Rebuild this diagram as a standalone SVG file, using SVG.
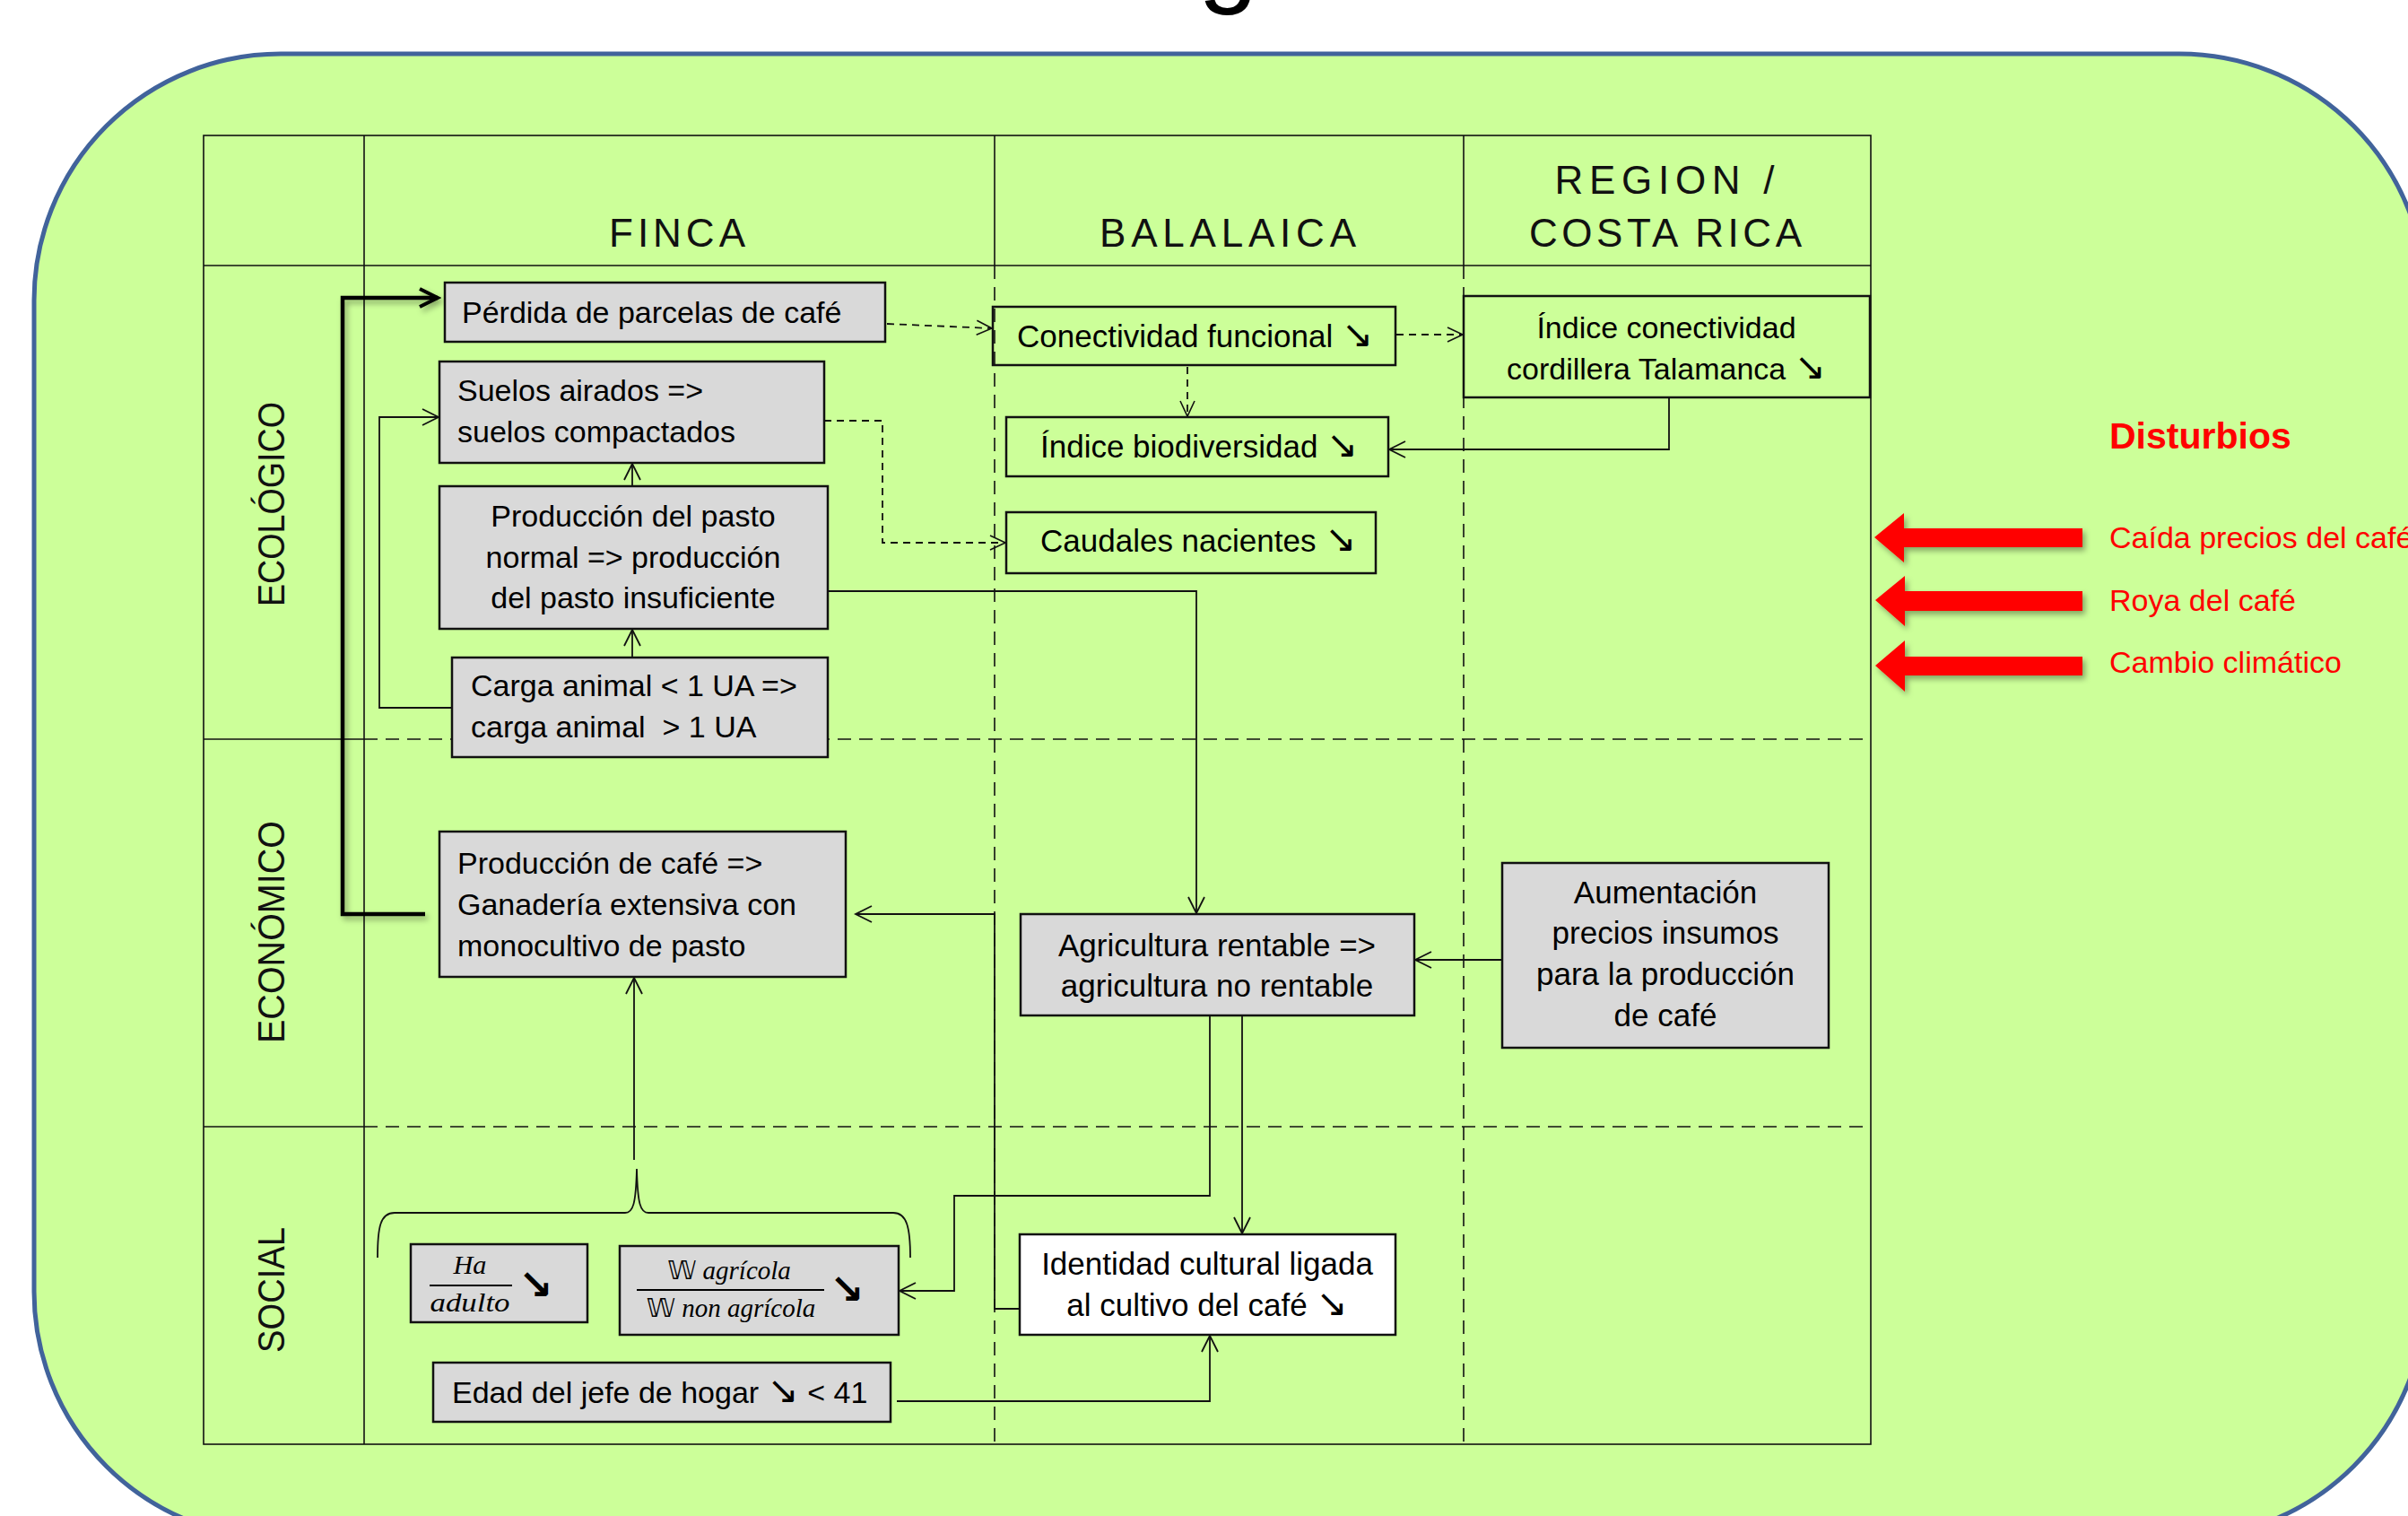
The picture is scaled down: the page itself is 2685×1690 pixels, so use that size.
<svg xmlns="http://www.w3.org/2000/svg" width="2685" height="1690" viewBox="0 0 2685 1690">
<defs>
<style>
.t{font-family:"Liberation Sans",Arial,"DejaVu Sans",sans-serif;font-size:34px;fill:#000}
.t35{font-size:35px}
.c{text-anchor:middle}
.ar{font-family:"DejaVu Sans",sans-serif;font-size:42px}
.hd{font-family:"Liberation Sans",Arial,sans-serif;font-size:44px;fill:#111;text-anchor:middle}
.side{font-family:"Liberation Sans",Arial,sans-serif;font-size:43px;fill:#111;text-anchor:middle}
.box{fill:#D9D9D9;stroke:#111;stroke-width:2.5}
.obox{fill:none;stroke:#111;stroke-width:2.5}
.wbox{fill:#FFFFFF;stroke:#111;stroke-width:2.5}
.grid{fill:none;stroke:#111;stroke-width:1.6}
.gd{stroke-dasharray:15 9}
.ln{fill:none;stroke:#111;stroke-width:1.8}
.dl{fill:none;stroke:#111;stroke-width:1.8;stroke-dasharray:8 6}
.thick{fill:none;stroke:#000;stroke-width:4.5}
.frac{font-family:"Liberation Serif","Times New Roman","DejaVu Serif",serif;font-style:italic;font-size:29px;fill:#000;text-anchor:middle}
.ds{font-family:"DejaVu Sans","DejaVu Serif",sans-serif;font-style:normal}
.red{font-family:"Liberation Sans",Arial,sans-serif;font-size:34px;fill:#FF0000}
</style>
<marker id="ah" markerUnits="userSpaceOnUse" markerWidth="22" markerHeight="22" viewBox="0 0 22 22" refX="20" refY="11" orient="auto">
<path d="M2,2 L20,11 L2,20" fill="none" stroke="#111" stroke-width="1.8"/>
</marker>
<marker id="ahd" markerUnits="userSpaceOnUse" markerWidth="22" markerHeight="22" viewBox="0 0 22 22" refX="20" refY="11" orient="auto">
<path d="M3,3 L20,11 L3,19" fill="none" stroke="#111" stroke-width="1.6"/>
</marker>
<marker id="ahT" markerUnits="userSpaceOnUse" markerWidth="30" markerHeight="30" viewBox="0 0 30 30" refX="26" refY="15" orient="auto">
<path d="M6,5 L26,15 L6,25" fill="none" stroke="#000" stroke-width="4"/>
</marker>
<filter id="sh" x="-10%" y="-30%" width="130%" height="170%">
<feDropShadow dx="3" dy="4" stdDeviation="3" flood-color="#000" flood-opacity="0.35"/>
</filter>
</defs>

<!-- cut-off title glyph -->
<text x="1336" y="-8" font-family="Liberation Sans, Arial, sans-serif" font-size="120" fill="#000">g</text>

<!-- background panel -->
<rect x="38" y="60" width="2667" height="1655" rx="275" ry="275" fill="#CCFF99" stroke="#41639B" stroke-width="5"/>

<!-- table grid -->
<g id="grid">
<rect x="227" y="151" width="1859" height="1459" class="grid" stroke-width="2.5"/>
<line x1="227" y1="296" x2="2086" y2="296" class="grid"/>
<line x1="406" y1="151" x2="406" y2="1610" class="grid"/>
<line x1="1109" y1="151" x2="1109" y2="296" class="grid"/>
<line x1="1109" y1="296" x2="1109" y2="1610" class="grid gd"/>
<line x1="1632" y1="151" x2="1632" y2="296" class="grid"/>
<line x1="1632" y1="296" x2="1632" y2="1610" class="grid gd"/>
<line x1="227" y1="824" x2="406" y2="824" class="grid"/>
<line x1="406" y1="824" x2="2086" y2="824" class="grid gd" stroke-width="2"/>
<line x1="227" y1="1256" x2="406" y2="1256" class="grid"/>
<line x1="406" y1="1256" x2="2086" y2="1256" class="grid gd" stroke-width="2"/>
</g>

<!-- headers -->
<g id="headers">
<text class="hd" x="755" y="275" textLength="152" lengthAdjust="spacing">FINCA</text>
<text class="hd" x="1369" y="275" textLength="286" lengthAdjust="spacing">BALALAICA</text>
<text class="hd" x="1856" y="216" textLength="245" lengthAdjust="spacing">REGION /</text>
<text class="hd" x="1857" y="275" textLength="304" lengthAdjust="spacing">COSTA RICA</text>
<text class="side" transform="translate(317,562) rotate(-90)" textLength="228" lengthAdjust="spacingAndGlyphs">ECOLÓGICO</text>
<text class="side" transform="translate(317,1039) rotate(-90)" textLength="248" lengthAdjust="spacingAndGlyphs">ECONÓMICO</text>
<text class="side" transform="translate(317,1438) rotate(-90)" textLength="140" lengthAdjust="spacingAndGlyphs">SOCIAL</text>
</g>

<!-- connectors -->
<g id="connectors">
<path class="thick" d="M474,1019 H382 V332 H488" marker-end="url(#ahT)" filter="url(#sh)"/>
<path class="thick" d="M709,915 V848" marker-end="url(#ahT)" filter="url(#sh)"/>
<path class="ln" d="M504,789 H423 V465 H489" marker-end="url(#ah)"/>
<path class="ln" d="M705,542 V517" marker-end="url(#ah)"/>
<path class="ln" d="M705,733 V702" marker-end="url(#ah)"/>
<path class="dl" d="M989,361 L1106,366" marker-end="url(#ahd)"/>
<path class="dl" d="M919,469 H984 V605 H1121" marker-end="url(#ahd)"/>
<path class="dl" d="M1324,409 V464" marker-end="url(#ahd)"/>
<path class="dl" d="M1557,373 H1631" marker-end="url(#ahd)"/>
<path class="ln" d="M1861,443 V501 H1549" marker-end="url(#ah)"/>
<path class="ln" d="M923,659 H1334 V1018" marker-end="url(#ah)"/>
<path class="ln" d="M1675,1070 H1578" marker-end="url(#ah)"/>
<path class="ln" d="M1137,1459 H1109 V1019 H954" marker-end="url(#ah)"/>
<path class="ln" d="M1349,1132 V1333 H1064 V1439 H1003" marker-end="url(#ah)"/>
<path class="ln" d="M1385,1132 V1375" marker-end="url(#ah)"/>
<path class="ln" d="M1000,1562 H1349 V1489" marker-end="url(#ah)"/>
<path class="ln" d="M707,1293 V1090" marker-end="url(#ah)"/>
<path class="ln" d="M421,1402 C421,1368 424,1352 440,1352 H697 C706,1352 709,1342 710,1303 C711,1342 714,1352 723,1352 H996 C1011,1352 1015,1368 1015,1402"/>
</g>

<!-- nodes -->
<g id="n-perdida">
<rect class="box" x="496" y="315" width="491" height="66"/>
<text class="t" x="515" y="360">Pérdida de parcelas de café</text>
</g>
<g id="n-suelos">
<rect class="box" x="490" y="403" width="429" height="113"/>
<text class="t" x="510" y="447">Suelos airados =&gt;</text>
<text class="t" x="510" y="493">suelos compactados</text>
</g>
<g id="n-pasto">
<rect class="box" x="490" y="542" width="433" height="159"/>
<text class="t c" x="706" y="587">Producción del pasto</text>
<text class="t c" x="706" y="633">normal =&gt; producción</text>
<text class="t c" x="706" y="678">del pasto insuficiente</text>
</g>
<g id="n-carga">
<rect class="box" x="504" y="733" width="419" height="111"/>
<text class="t" x="525" y="776">Carga animal &lt; 1 UA =&gt;</text>
<text class="t" x="525" y="822">carga animal&#160; &gt; 1 UA</text>
</g>
<g id="n-cafe">
<rect class="box" x="490" y="927" width="453" height="162" stroke-width="4.5"/>
<text class="t" x="510" y="974">Producción de café =&gt;</text>
<text class="t" x="510" y="1020">Ganadería extensiva con</text>
<text class="t" x="510" y="1066">monocultivo de pasto</text>
</g>
<g id="n-ha">
<rect class="box" x="458" y="1387" width="197" height="87"/>
<text class="frac" x="524" y="1420" textLength="37" lengthAdjust="spacingAndGlyphs">Ha</text>
<line x1="479" y1="1433" x2="571" y2="1433" stroke="#000" stroke-width="1.8"/>
<text class="frac" x="524" y="1462" textLength="89" lengthAdjust="spacingAndGlyphs">adulto</text>
<text x="578" y="1448" font-family="DejaVu Sans, sans-serif" font-size="46" font-weight="bold" fill="#000">↘</text>
</g>
<g id="n-w">
<rect class="box" x="691" y="1389" width="311" height="99"/>
<text class="frac" x="813" y="1426"><tspan class="ds">𝕎</tspan> agrícola</text>
<line x1="710" y1="1438" x2="919" y2="1438" stroke="#000" stroke-width="1.8"/>
<text class="frac" x="815" y="1468"><tspan class="ds">𝕎</tspan> non agrícola</text>
<text x="925" y="1453" font-family="DejaVu Sans, sans-serif" font-size="46" font-weight="bold" fill="#000">↘</text>
</g>
<g id="n-edad">
<rect class="box" x="483" y="1519" width="510" height="66"/>
<text class="t" x="504" y="1564">Edad del jefe de hogar <tspan class="ar">↘</tspan> &lt; 41</text>
</g>
<g id="n-conect">
<rect class="obox" x="1107" y="342" width="449" height="65"/>
<text class="t t35" x="1134" y="387">Conectividad funcional <tspan class="ar">↘</tspan></text>
</g>
<g id="n-biodiv">
<rect class="obox" x="1122" y="465" width="426" height="66"/>
<text class="t t35" x="1160" y="510">Índice biodiversidad <tspan class="ar">↘</tspan></text>
</g>
<g id="n-caudales">
<rect class="obox" x="1122" y="571" width="412" height="68"/>
<text class="t t35" x="1160" y="615">Caudales nacientes <tspan class="ar">↘</tspan></text>
</g>
<g id="n-talamanca">
<rect class="obox" x="1632" y="330" width="453" height="113" stroke-width="3.2"/>
<text class="t c" x="1858" y="377">Índice conectividad</text>
<text class="t c" x="1858" y="423">cordillera Talamanca <tspan class="ar">↘</tspan></text>
</g>
<g id="n-agri">
<rect class="box" x="1138" y="1019" width="439" height="113"/>
<text class="t t35 c" x="1357" y="1066">Agricultura rentable =&gt;</text>
<text class="t t35 c" x="1357" y="1111">agricultura no rentable</text>
</g>
<g id="n-aument">
<rect class="box" x="1675" y="962" width="364" height="206"/>
<text class="t t35 c" x="1857" y="1007">Aumentación</text>
<text class="t t35 c" x="1857" y="1052">precios insumos</text>
<text class="t t35 c" x="1857" y="1098">para la producción</text>
<text class="t t35 c" x="1857" y="1144">de café</text>
</g>
<g id="n-identidad">
<rect class="wbox" x="1137" y="1376" width="419" height="112"/>
<text class="t t35 c" x="1346" y="1421">Identidad cultural ligada</text>
<text class="t t35 c" x="1346" y="1467">al cultivo del café <tspan class="ar">↘</tspan></text>
</g>

<!-- disturbances -->
<g id="disturbios">
<text x="2352" y="500" font-family="Liberation Sans, Arial, sans-serif" font-size="41" font-weight="bold" fill="#FF0000">Disturbios</text>
<g filter="url(#sh)" fill="#FF0000">
<polygon points="2090,599 2123,572 2123,589 2322,589 2322,610 2123,610 2123,627"/>
<polygon points="2091,669 2124,642 2124,659 2322,659 2322,681 2124,681 2124,698"/>
<polygon points="2091,742 2124,714 2124,732 2322,732 2322,753 2124,753 2124,771"/>
</g>
<text class="red" x="2352" y="611">Caída precios del café</text>
<text class="red" x="2352" y="681">Roya del café</text>
<text class="red" x="2352" y="750">Cambio climático</text>
</g>
</svg>
